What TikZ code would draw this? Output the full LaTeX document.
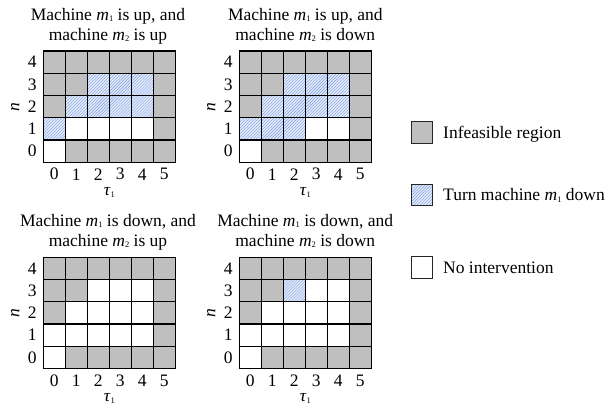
\documentclass[tikz,border=0pt]{standalone}
\usepackage{fontspec}
\setmainfont{Liberation Serif}
\usetikzlibrary{patterns}
\definecolor{infgray}{RGB}{191,191,191}
\definecolor{hatchbg}{RGB}{228,235,250}
\definecolor{hatchln}{RGB}{125,158,225}
\newcommand{\subone}[1]{\raisebox{-1.5bp}{\fontsize{8.5bp}{8.5bp}\selectfont #1}}
\newcommand{\mach}[1]{\textit{m}\subone{#1}}
\tikzset{
  every node/.style={font=\fontsize{17.5bp}{20bp}\selectfont, inner sep=0pt},
  cellG/.style={fill=infgray, draw=black, line width=1.3bp},
  cellW/.style={fill=white, draw=black, line width=1.3bp},
  cellH/.style={preaction={fill=hatchbg}, pattern=north east lines, pattern color=hatchln, draw=black, line width=1.3bp},
  lbl/.style={anchor=center},
  ttl/.style={anchor=base},
  legbox/.style={draw=black!85, line width=0.9bp, minimum width=21.5bp, minimum height=21.5bp},
  legtxt/.style={anchor=base west}
}
% #1 name, #2 left, #3 top, #4 rows (n=4 .. n=0)
\newcommand{\gridpanel}[4]{%
  \foreach \rowspec [count=\r from 0] in {#4} {
    \foreach \c [count=\k from 0] in \rowspec {
      \path[cell\c] ({#2+22*\k},{#3+22.25*\r}) rectangle ++(22,22.25);
    }
  }
  \foreach \k in {0,...,5}
    \node[lbl] (#1-c\k) at ({#2+11+22*\k},{#3+5*22.25+12}) {\k};
  \foreach \n [count=\r from 0] in {4,3,2,1,0}
    \node[lbl] (#1-r\n) at ({#2-11},{#3+11.125+22.25*\r}) {\n};
  \node[lbl, rotate=90] (#1-n) at ({#2-28},{#3+2.5*22.25}) {\textit{n}};
  \node[lbl] (#1-tau) at ({#2+66},{#3+5*22.25+30}) {\textit{τ}\subone{1}};
}
\begin{document}
\begin{tikzpicture}[x=1bp,y=-1bp]
\useasboundingbox (0,0) rectangle (608,407);

% top-left: m1 up, m2 up
\node[ttl] (tl-t1) at (108,20.3) {Machine \mach{1} is up, and};
\node[ttl] (tl-t2) at (108,40.3) {machine \mach{2} is up};
\gridpanel{tl}{43.3}{51}{{G,G,G,G,G,G},{G,G,H,H,H,G},{G,H,H,H,H,G},{H,W,W,W,W,G},{W,G,G,G,G,G}}

% top-right: m1 up, m2 down
\node[ttl] (tr-t1) at (305.3,20.3) {Machine \mach{1} is up, and};
\node[ttl] (tr-t2) at (305.3,40.3) {machine \mach{2} is down};
\gridpanel{tr}{239.3}{51}{{G,G,G,G,G,G},{G,G,H,H,H,G},{G,H,H,H,H,G},{H,H,H,W,W,G},{W,G,G,G,G,G}}

% bottom-left: m1 down, m2 up
\node[ttl] (bl-t1) at (108,226.3) {Machine \mach{1} is down, and};
\node[ttl] (bl-t2) at (108,246.3) {machine \mach{2} is up};
\gridpanel{bl}{43.3}{257.3}{{G,G,G,G,G,G},{G,G,W,W,W,G},{G,W,W,W,W,G},{W,W,W,W,W,G},{W,G,G,G,G,G}}

% bottom-right: m1 down, m2 down
\node[ttl] (br-t1) at (305.3,226.3) {Machine \mach{1} is down, and};
\node[ttl] (br-t2) at (305.3,246.3) {machine \mach{2} is down};
\gridpanel{br}{239.3}{257.3}{{G,G,G,G,G,G},{G,G,H,W,W,G},{G,W,W,W,W,G},{W,W,W,W,W,G},{W,G,G,G,G,G}}

% legend
\node[legbox, fill=infgray] (lg-inf) at (422,132.5) {};
\node[legtxt] (lg-inf-t) at (443,138.3) {Infeasible region};
\node[legbox, preaction={fill=hatchbg}, pattern=north east lines, pattern color=hatchln] (lg-turn) at (422,195) {};
\node[legtxt] (lg-turn-t) at (443,200.8) {Turn machine \mach{1} down};
\node[legbox, fill=white] (lg-no) at (422,267.5) {};
\node[legtxt] (lg-no-t) at (443,273.3) {No intervention};
\end{tikzpicture}
\end{document}
